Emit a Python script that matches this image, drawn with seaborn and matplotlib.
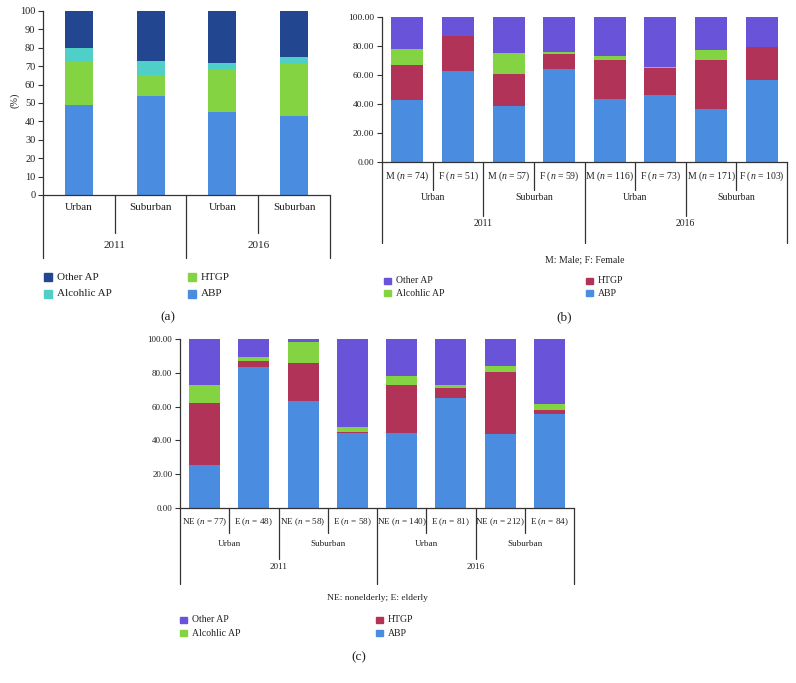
import numpy as np
import seaborn as sns
import matplotlib.pyplot as plt
from matplotlib.patches import Rectangle
from matplotlib.transforms import blended_transform_factory

sns.set_style("ticks")
plt.rcParams['font.family'] = ['Liberation Serif', 'DejaVu Serif']
plt.rcParams['mathtext.fontset'] = 'custom'
plt.rcParams['mathtext.it'] = 'Liberation Serif:italic'
plt.rcParams['mathtext.rm'] = 'Liberation Serif'

W, H = 796, 683
INK = '#231f20'

series = ["ABP", "HTGP", "Alcohlic AP", "Other AP"]  # bottom -> top

# (a) by region and year
a_regions = ["Urban", "Suburban", "Urban", "Suburban"]
a_years = ["2011", "2016"]
a_abp = [49, 54, 45, 43]
a_htgp = [24, 11, 23, 28]
a_alc = [7, 8, 4, 4]
a_other = [20, 27, 28, 25]

# (b) by sex
b_groups = [r"M ($n$ = 74)", r"F ($n$ = 51)", r"M ($n$ = 57)", r"F ($n$ = 59)",
            r"M ($n$ = 116)", r"F ($n$ = 73)", r"M ($n$ = 171)", r"F ($n$ = 103)"]
b_regions = ["Urban", "Suburban", "Urban", "Suburban"]
b_years = ["2011", "2016"]
b_abp = [42.8, 62.5, 38.7, 64.3, 43.7, 46.0, 36.6, 56.3]
b_htgp = [24.2, 24.5, 22.2, 10.1, 26.8, 18.5, 33.9, 23.1]
b_alc = [10.8, 0.0, 14.4, 1.6, 2.5, 0.7, 6.4, 0.0]
b_other = [22.2, 13.0, 24.7, 24.0, 27.0, 34.8, 23.1, 20.6]

# (c) by age
c_groups = [r"NE ($n$ = 77)", r"E ($n$ = 48)", r"NE ($n$ = 58)", r"E ($n$ = 58)",
            r"NE ($n$ = 140)", r"E ($n$ = 81)", r"NE ($n$ = 212)", r"E ($n$ = 84)"]
c_regions = ["Urban", "Suburban", "Urban", "Suburban"]
c_years = ["2011", "2016"]
c_abp = [25.5, 83.2, 63.4, 44.6, 44.6, 65.1, 43.8, 55.4]
c_htgp = [36.5, 3.9, 22.5, 0.3, 27.9, 6.2, 36.4, 2.6]
c_alc = [10.7, 2.4, 12.3, 3.0, 5.5, 1.4, 4.0, 3.6]
c_other = [27.3, 10.5, 1.8, 52.1, 22.0, 27.3, 15.8, 38.4]

colors_a = ['#4a8de0', '#84d342', '#50cfc8', '#22468f']
colors_bc = ['#4a8de0', '#b23358', '#84d342', '#6954d9']

fig = plt.figure(figsize=(W / 100, H / 100), dpi=100)


def stack_bars(ax, layers, colors, width):
    tops = np.cumsum(np.array(layers, dtype=float), axis=0)
    n = tops.shape[1]
    for top, col in reversed(list(zip(tops, colors))):
        sns.barplot(x=np.arange(n), y=top, color=col, width=width,
                    saturation=1, linewidth=0, ax=ax)
    ax.set_xlim(-0.5, n - 0.5)
    ax.set_ylim(0, 100)
    ax.set_xticks([])
    ax.set_xlabel('')
    sns.despine(ax=ax)
    for s in ('left', 'bottom'):
        ax.spines[s].set_color('#333333')
        ax.spines[s].set_linewidth(0.9)
    ax.tick_params(axis='y', length=3.5, width=0.8, color='#333333', pad=2)


def hier_axis(ax, levels, line_px, text_px, fs):
    trans = blended_transform_factory(ax.transData, ax.transAxes)
    h = ax.get_position().height * H
    n = len(levels[0])
    for b in range(n + 1):
        depth = 0
        for k, labs in enumerate(levels):
            if b % (n // len(labs)) == 0:
                depth = k
        ax.plot([b - 0.5, b - 0.5], [0, -line_px[depth] / h], transform=trans,
                clip_on=False, color='#333333', lw=0.9)
    for k, labs in enumerate(levels):
        span = n // len(labs)
        for i, lab in enumerate(labs):
            ax.text(i * span + (span - 1) / 2, -text_px[k] / h, lab, transform=trans,
                    ha='center', va='center', fontsize=fs, color=INK)


def legend(entries, x0, rows_y, sq, fs):
    for (lab, col), y in zip(entries, rows_y):
        fig.patches.append(Rectangle((x0 / W, 1 - (y + sq / 2) / H), sq / W, sq / H,
                                     transform=fig.transFigure, color=col))
        fig.text((x0 + sq + 5) / W, 1 - y / H, lab, ha='left', va='center',
                 fontsize=fs, color=INK)


# panel (a)
ax_a = fig.add_axes([43 / W, 1 - 195 / H, 287 / W, 184 / H])
stack_bars(ax_a, [a_abp, a_htgp, a_alc, a_other], colors_a, 0.39)
ax_a.set_yticks(range(0, 101, 10))
ax_a.set_yticklabels([str(v) for v in range(0, 101, 10)], fontsize=7.5, color=INK)
hier_axis(ax_a, [a_regions, a_years], [38, 63], [12, 51], 8)
fig.text(15 / W, 1 - 100 / H, '(%)', rotation=90, ha='center', va='center',
         fontsize=7.5, color=INK)
legend([("Other AP", colors_a[3]), ("Alcohlic AP", colors_a[2])], 44, [277, 294], 8, 8)
legend([("HTGP", colors_a[1]), ("ABP", colors_a[0])], 188, [277, 294], 8, 8)
fig.text(168 / W, 1 - 317 / H, '(a)', ha='center', va='center', fontsize=9.5, color=INK)

# panel (b)
ax_b = fig.add_axes([382 / W, 1 - 162 / H, 405 / W, 145 / H])
stack_bars(ax_b, [b_abp, b_htgp, b_alc, b_other], colors_bc, 0.63)
ax_b.set_yticks(range(0, 101, 20))
ax_b.set_yticklabels([f"{v:.2f}" for v in range(0, 101, 20)], fontsize=6.8, color=INK)
hier_axis(ax_b, [b_groups, b_regions, b_years], [28, 54, 81], [14, 36, 62], 7)
fig.text(585 / W, 1 - 260 / H, 'M: Male; F: Female', ha='center', va='center',
         fontsize=7, color=INK)
legend([("Other AP", colors_bc[3]), ("Alcohlic AP", colors_bc[2])], 384, [281, 293], 6.5, 7)
legend([("HTGP", colors_bc[1]), ("ABP", colors_bc[0])], 586, [281, 293], 6.5, 7)
fig.text(564 / W, 1 - 317 / H, '(b)', ha='center', va='center', fontsize=9.5, color=INK)

# panel (c)
ax_c = fig.add_axes([180 / W, 1 - 508 / H, 394 / W, 169 / H])
stack_bars(ax_c, [c_abp, c_htgp, c_alc, c_other], colors_bc, 0.63)
ax_c.set_yticks(range(0, 101, 20))
ax_c.set_yticklabels([f"{v:.2f}" for v in range(0, 101, 20)], fontsize=6.5, color=INK)
hier_axis(ax_c, [c_groups, c_regions, c_years], [25, 51, 76], [14, 36, 59], 6.6)
fig.text(377 / W, 1 - 598 / H, 'NE: nonelderly; E: elderly', ha='center', va='center',
         fontsize=6.8, color=INK)
legend([("Other AP", colors_bc[3]), ("Alcohlic AP", colors_bc[2])], 180, [620, 633], 6.5, 7)
legend([("HTGP", colors_bc[1]), ("ABP", colors_bc[0])], 376, [620, 633], 6.5, 7)
fig.text(359 / W, 1 - 657 / H, '(c)', ha='center', va='center', fontsize=9.5, color=INK)

fig.savefig('out.png', dpi=100)
